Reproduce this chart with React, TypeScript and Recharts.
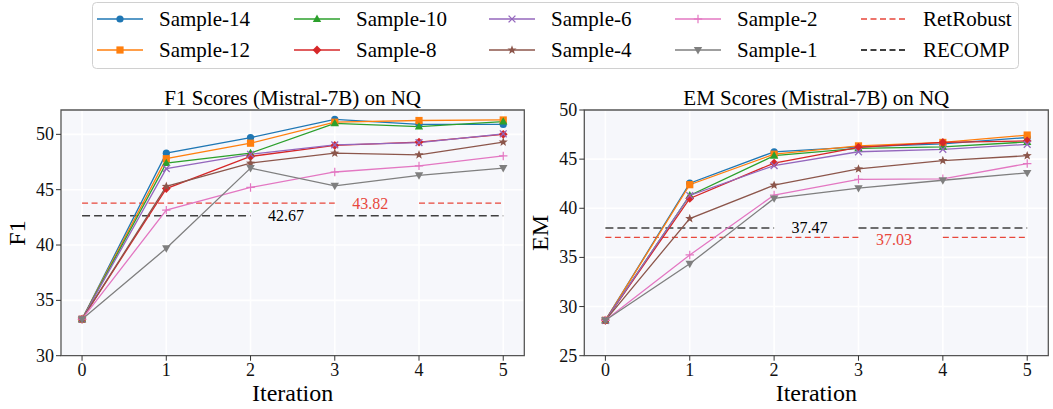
import React from 'react';
import { LineChart, Line, XAxis, YAxis, CartesianGrid, ReferenceLine, ReferenceDot, ReferenceArea } from 'recharts';

const iterations = [0, 1, 2, 3, 4, 5];
const seriesNames = ['Sample-14', 'Sample-12', 'Sample-10', 'Sample-8', 'Sample-6', 'Sample-4', 'Sample-2', 'Sample-1'];
const seriesColors = ['#1f77b4', '#ff7f0e', '#2ca02c', '#d62728', '#9467bd', '#8c564b', '#e377c2', '#7f7f7f'];
const seriesMarkers = ['circle', 'square', 'triangle', 'diamond', 'x', 'star', 'plus', 'triangleDown'];

// F1 scores
const f1Sample14 = [33.3, 48.3, 49.7, 51.35, 50.9, 50.9];
const f1Sample12 = [33.3, 47.8, 49.2, 51.1, 51.25, 51.3];
const f1Sample10 = [33.3, 47.4, 48.3, 51.0, 50.7, 51.15];
const f1Sample8 = [33.3, 45.1, 48.0, 49.0, 49.3, 50.0];
const f1Sample6 = [33.3, 46.9, 48.2, 49.05, 49.25, 50.05];
const f1Sample4 = [33.3, 45.3, 47.4, 48.3, 48.15, 49.3];
const f1Sample2 = [33.3, 43.15, 45.2, 46.6, 47.15, 48.05];
const f1Sample1 = [33.3, 39.7, 46.95, 45.35, 46.3, 46.95];

// EM scores
const emSample14 = [28.6, 42.55, 45.75, 46.25, 46.55, 47.2];
const emSample12 = [28.6, 42.4, 45.5, 46.35, 46.7, 47.45];
const emSample10 = [28.6, 41.3, 45.35, 46.1, 46.25, 46.75];
const emSample8 = [28.6, 41.0, 44.6, 46.2, 46.7, 46.85];
const emSample6 = [28.6, 41.3, 44.35, 45.75, 46.0, 46.5];
const emSample4 = [28.6, 38.95, 42.35, 44.0, 44.85, 45.35];
const emSample2 = [28.6, 35.25, 41.35, 42.95, 43.0, 44.55];
const emSample1 = [28.6, 34.35, 41.0, 42.05, 42.85, 43.6];

// baselines: labelled value and where the dashed line sits in the picture
const f1RetRobust = { label: 43.82, at: 43.78 };
const f1Recomp = { label: 42.67, at: 42.65 };
const emRetRobust = { label: 37.03, at: 37.03 };
const emRecomp = { label: 37.47, at: 38.0 };
const recompGap = [2, 3];
const retRobustGap = [3, 4];
const recompLabelX = 2.42;
const retRobustLabelX = 3.42;

const f1Ticks = [30, 35, 40, 45, 50];
const emTicks = [25, 30, 35, 40, 45, 50];

const RED = '#e8473b';
const RECOMP_COLOR = '#404040';
const FONT = 'serif';

const buildRows = (series: number[][]) =>
  iterations.map((it, i) => {
    const row: Record<string, number> = { iter: it };
    seriesNames.forEach((n, k) => { row[n] = series[k][i]; });
    return row;
  });

const f1Data = buildRows([f1Sample14, f1Sample12, f1Sample10, f1Sample8, f1Sample6, f1Sample4, f1Sample2, f1Sample1]);
const emData = buildRows([emSample14, emSample12, emSample10, emSample8, emSample6, emSample4, emSample2, emSample1]);

function Marker({ cx, cy, shape, color }: { cx: number; cy: number; shape: string; color: string }) {
  switch (shape) {
    case 'circle':
      return <circle cx={cx} cy={cy} r={3.6} fill={color} />;
    case 'square':
      return <rect x={cx - 3.6} y={cy - 3.6} width={7.2} height={7.2} fill={color} />;
    case 'triangle':
      return <polygon points={`${cx},${cy - 4.4} ${cx + 4.2},${cy + 3} ${cx - 4.2},${cy + 3}`} fill={color} />;
    case 'triangleDown':
      return <polygon points={`${cx},${cy + 4.4} ${cx + 4.2},${cy - 3} ${cx - 4.2},${cy - 3}`} fill={color} />;
    case 'diamond':
      return <polygon points={`${cx},${cy - 4.4} ${cx + 4.4},${cy} ${cx},${cy + 4.4} ${cx - 4.4},${cy}`} fill={color} />;
    case 'x':
      return (
        <g stroke={color} strokeWidth={1.3}>
          <line x1={cx - 3.4} y1={cy - 3.4} x2={cx + 3.4} y2={cy + 3.4} />
          <line x1={cx - 3.4} y1={cy + 3.4} x2={cx + 3.4} y2={cy - 3.4} />
        </g>
      );
    case 'plus':
      return (
        <g stroke={color} strokeWidth={1.2}>
          <line x1={cx - 4.2} y1={cy} x2={cx + 4.2} y2={cy} />
          <line x1={cx} y1={cy - 4.2} x2={cx} y2={cy + 4.2} />
        </g>
      );
    case 'star': {
      const pts: string[] = [];
      for (let i = 0; i < 10; i++) {
        const r = i % 2 === 0 ? 4.8 : 2.0;
        const a = -Math.PI / 2 + (i * Math.PI) / 5;
        pts.push(`${cx + r * Math.cos(a)},${cy + r * Math.sin(a)}`);
      }
      return <polygon points={pts.join(' ')} fill={color} />;
    }
    default:
      return null;
  }
}

// tick text drawn with a CSS font rule so it stays serif
const AxisTick = ({ x, y, payload, vertical }: any) => (
  <text
    x={x}
    y={y}
    textAnchor={vertical ? 'end' : 'middle'}
    dominantBaseline={vertical ? 'central' : 'hanging'}
    fill="#111"
    style={{ fontFamily: FONT, fontSize: 18 }}
  >
    {payload.value}
  </text>
);

const BaselineLabel = ({ viewBox, text, color, dy }: any) => {
  const { x, y, width, height } = viewBox;
  return (
    <text
      x={x + width / 2}
      y={y + height / 2 + (dy || 0)}
      textAnchor="middle"
      dominantBaseline="central"
      fill={color}
      style={{ fontFamily: FONT, fontSize: 16 }}
    >
      {text}
    </text>
  );
};

function Baseline({ base, gap, labelX, color, labelColor, width, dash, labelDy }: any) {
  return [
    <ReferenceLine key="a" segment={[{ x: 0, y: base.at }, { x: gap[0], y: base.at }]} stroke={color} strokeWidth={width} strokeDasharray={dash} />,
    <ReferenceLine key="b" segment={[{ x: gap[1], y: base.at }, { x: 5, y: base.at }]} stroke={color} strokeWidth={width} strokeDasharray={dash} />,
    <ReferenceDot
      key="c"
      x={labelX}
      y={base.at}
      r={0}
      fill="none"
      stroke="none"
      label={(p: any) => <BaselineLabel {...p} text={base.label.toFixed(2)} color={labelColor} dy={labelDy} />}
    />,
  ];
}

function Panel({ left, width, plotLeft, plotRight, title, yLabel, data, domain, ticks, recomp, retRobust, retDy }: any) {
  const yAxisWidth = 40;
  const top = 110;
  const bottom = 355.7;
  const xAxisHeight = 30;
  const cx = (plotLeft + plotRight) / 2;
  return (
    <div style={{ position: 'absolute', left, top: 0, width, height: 409 }}>
      <div style={{ position: 'absolute', left: cx - 200, width: 400, top: 86, textAlign: 'center', fontSize: 21, lineHeight: '24px' }}>
        {title}
      </div>
      <div style={{ position: 'absolute', left: cx - 100, width: 200, top: 379, textAlign: 'center', fontSize: 24, lineHeight: '28px' }}>
        Iteration
      </div>
      <div
        style={{
          position: 'absolute',
          left: plotLeft - 44 - 50,
          width: 100,
          top: (top + bottom) / 2 - 14,
          textAlign: 'center',
          fontSize: 24,
          lineHeight: '28px',
          transform: 'rotate(-90deg)',
        }}
      >
        {yLabel}
      </div>
      <LineChart
        width={width}
        height={409}
        data={data}
        margin={{ top, bottom: 409 - bottom - xAxisHeight, left: plotLeft - yAxisWidth, right: width - plotRight }}
        style={{ fontFamily: FONT }}
      >
        <CartesianGrid fill="#f6f7fb" stroke="#ffffff" strokeWidth={1.6} />
        <XAxis
          dataKey="iter"
          type="number"
          domain={[-0.25, 5.25]}
          ticks={iterations}
          allowDataOverflow
          height={xAxisHeight}
          axisLine={false}
          tickLine={{ stroke: '#333', strokeWidth: 1 }}
          tickSize={5}
          tickMargin={3}
          tick={<AxisTick />}
        />
        <YAxis
          type="number"
          domain={domain}
          ticks={ticks}
          allowDataOverflow
          width={yAxisWidth}
          axisLine={false}
          tickLine={{ stroke: '#333', strokeWidth: 1 }}
          tickSize={5}
          tickMargin={2}
          tick={<AxisTick vertical />}
        />
        <ReferenceArea x1={-0.25} x2={5.25} y1={domain[0]} y2={domain[1]} fill="none" stroke="#555" strokeWidth={1.3} fillOpacity={0} />
        {Baseline({ base: retRobust, gap: retRobustGap, labelX: retRobustLabelX, color: RED, labelColor: RED, width: 1.2, dash: '6 3.5', labelDy: retDy })}
        {Baseline({ base: recomp, gap: recompGap, labelX: recompLabelX, color: RECOMP_COLOR, labelColor: '#000', width: 1.6, dash: '8 4' })}
        {seriesNames.map((name, k) => (
          <Line
            key={name}
            dataKey={name}
            stroke={seriesColors[k]}
            strokeWidth={1.3}
            isAnimationActive={false}
            dot={(p: any) => <Marker key={`${name}-${p.index}`} cx={p.cx} cy={p.cy} shape={seriesMarkers[k]} color={seriesColors[k]} />}
            activeDot={false}
          />
        ))}
      </LineChart>
    </div>
  );
}

const legendColumns = [97, 294, 489, 675, 861];
const legendRows = [19, 50];

function Legend() {
  const items = seriesNames.map((n, k) => ({ name: n, color: seriesColors[k], marker: seriesMarkers[k], dash: '' }));
  items.push({ name: 'RetRobust', color: RED, marker: '', dash: '6 3.5' });
  items.push({ name: 'RECOMP', color: '#000', marker: '', dash: '6 3.5' });
  return (
    <div style={{ position: 'absolute', left: 0, top: 0, width: 1053, height: 72 }}>
      <svg width={1053} height={72} style={{ position: 'absolute', left: 0, top: 0 }}>
        <rect x={92.5} y={2.5} width={926} height={66} rx={4} fill="#fff" stroke="#d0d0d0" strokeWidth={1} />
        {items.map((it, i) => {
          const x = legendColumns[Math.floor(i / 2)];
          const y = legendRows[i % 2];
          return (
            <g key={it.name}>
              <line x1={x} y1={y} x2={x + 46} y2={y} stroke={it.color} strokeWidth={1.4} strokeDasharray={it.dash || undefined} />
              {it.marker && <Marker cx={x + 23} cy={y} shape={it.marker} color={it.color} />}
            </g>
          );
        })}
      </svg>
      {items.map((it, i) => {
        const x = legendColumns[Math.floor(i / 2)];
        const y = legendRows[i % 2];
        return (
          <div key={it.name} style={{ position: 'absolute', left: x + 62, top: y - 13, fontSize: 21, lineHeight: '26px', whiteSpace: 'nowrap' }}>
            {it.name}
          </div>
        );
      })}
    </div>
  );
}

export default function App() {
  return (
    <div style={{ position: 'absolute', left: 0, top: 0, width: 1053, height: 409, background: '#fff', fontFamily: FONT, color: '#000' }}>
      <Legend />
      <Panel
        left={0}
        width={540}
        plotLeft={61}
        plotRight={524.3}
        title="F1 Scores (Mistral-7B) on NQ"
        yLabel="F1"
        data={f1Data}
        domain={[30, 52.2]}
        ticks={f1Ticks}
        recomp={f1Recomp}
        retRobust={f1RetRobust}
        retDy={0}
      />
      <Panel
        left={540}
        width={513}
        plotLeft={44.3}
        plotRight={508.3}
        title="EM Scores (Mistral-7B) on NQ"
        yLabel="EM"
        data={emData}
        domain={[25, 50]}
        ticks={emTicks}
        recomp={emRecomp}
        retRobust={emRetRobust}
        retDy={2}
      />
    </div>
  );
}
